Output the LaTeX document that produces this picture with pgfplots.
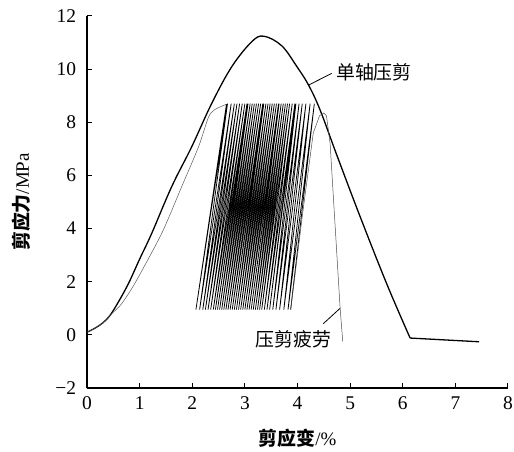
\documentclass[border=0pt]{standalone}
\usepackage{fontspec}
\setmainfont{Liberation Serif}
\newfontfamily\cjk{Noto Sans CJK SC}
\usepackage{pgfplots}
\pgfplotsset{compat=1.18}
\begin{document}
\begin{tikzpicture}
\path[use as bounding box] (-87bp,-64bp) rectangle (427bp,388bp);
\begin{axis}[
  scale only axis, width=421bp, height=372bp,
  xmin=0, xmax=8, ymin=-2, ymax=12,
  axis lines=left, axis line style={-, line width=1.1pt},
  tick align=inside, major tick length=5bp,
  tick style={line width=1pt, black},
  xtick={0,1,2,3,4,5,6,7,8},
  ytick={-2,0,2,4,6,8,10,12},
  yticklabels={−2,0,2,4,6,8,10,12},
  /pgf/number format/assume math mode=true,
  tick label style={font=\fontsize{19.5}{22}\selectfont},
  xticklabel style={yshift=-5.5bp},
  yticklabel style={xshift=-7.5bp},
  xlabel={{\cjk\bfseries 剪应变}/\%},
  ylabel={{\cjk\bfseries 剪应力}/MPa},
  label style={font=\fontsize{19}{22}\selectfont},
  xlabel style={at={(axis description cs:0.5,-0.134)}, anchor=center},
  ylabel style={at={(axis description cs:-0.155,0.5)}, anchor=center},
  clip=false,
]
% monotonic (uniaxial compression-shear)
\addplot[black, line width=1.3pt, smooth, tension=0.6] coordinates {
(0,0.1) (0.15,0.25) (0.3,0.45) (0.44,0.74) (0.6,1.25) (0.79,1.94) (1.0,2.85) (1.23,3.82)
(1.61,5.58) (1.99,7.08) (2.37,8.71) (2.75,10.09) (3.13,11.03) (3.36,11.24) (3.70,10.88)
(3.99,10.09) (4.21,9.4) (4.43,8.46) (4.75,6.75) (5.19,4.45) (5.70,1.9) (6.14,-0.12)
};
\addplot[black, line width=1.3pt] coordinates {(6.14,-0.12) (7.45,-0.26)};
% fatigue envelope
\addplot[black!65, line width=0.5pt, smooth, tension=0.4] coordinates {
(0,0.1) (0.15,0.25) (0.3,0.45) (0.44,0.74) (0.65,1.15) (0.91,1.94) (1.42,3.82)
(1.80,5.58) (2.12,7.08) (2.31,8.2) (2.43,8.48) (2.65,8.68)
};
% fatigue cycles
\addplot[black, line width=0.75pt] coordinates {
(2.65,8.68) (2.07,0.95) (2.67,8.7) (2.14,0.95) (2.74,8.7) (2.20,0.95) (2.80,8.7) (2.25,0.95)
(2.85,8.7) (2.30,0.95) (2.90,8.7) (2.35,0.95) (2.95,8.7) (2.40,0.95) (3.00,8.7) (2.44,0.95)
(3.04,8.7) (2.48,0.95) (3.06,8.7) (2.52,0.95) (3.10,8.7) (2.56,0.95) (3.14,8.7) (2.60,0.95)
(3.18,8.7) (2.64,0.95) (3.22,8.7) (2.68,0.95) (3.26,8.7) (2.72,0.95) (3.30,8.7) (2.76,0.95)
(3.34,8.7) (2.80,0.95) (3.36,8.7) (2.84,0.95) (3.40,8.7) (2.88,0.95) (3.44,8.7) (2.92,0.95)
(3.48,8.7) (2.96,0.95) (3.52,8.7) (3.00,0.95) (3.56,8.7) (3.04,0.95) (3.60,8.7) (3.08,0.95)
(3.64,8.7) (3.12,0.95) (3.65,8.7) (3.16,0.95) (3.69,8.7) (3.20,0.95) (3.73,8.7) (3.24,0.95)
(3.77,8.7) (3.28,0.95) (3.81,8.7) (3.32,0.95) (3.85,8.7) (3.37,0.95) (3.90,8.7) (3.42,0.95)
(3.95,8.7) (3.47,0.95) (3.97,8.7) (3.53,0.95) (4.03,8.7) (3.59,0.95) (4.09,8.7) (3.66,0.95)
(4.16,8.7) (3.74,0.95) (4.24,8.7) (3.82,0.95) (4.32,8.7) (3.87,0.95)
};
\addplot[black!70, line width=0.5pt] coordinates {
(3.87,0.95) (4.10,4.6) (4.30,7.6) (4.42,8.25) (4.50,8.35) (4.55,8.25) (4.62,7.2)
(4.81,1.0) (4.86,-0.25)
};
% annotations
\draw[black, line width=0.8pt] (axis cs:4.21,9.4) -- (axis cs:4.65,9.84);
\node[anchor=west, inner sep=0pt, font=\cjk\fontsize{19}{22}\selectfont] at (axis cs:4.73,9.9) {单轴压剪};
\draw[black, line width=0.8pt] (axis cs:4.81,1.0) -- (axis cs:4.49,0.42);
\node[anchor=center, inner sep=0pt, font=\cjk\fontsize{19}{22}\selectfont] at (axis cs:3.92,-0.15) {压剪疲劳};
\end{axis}
\end{tikzpicture}
\end{document}
